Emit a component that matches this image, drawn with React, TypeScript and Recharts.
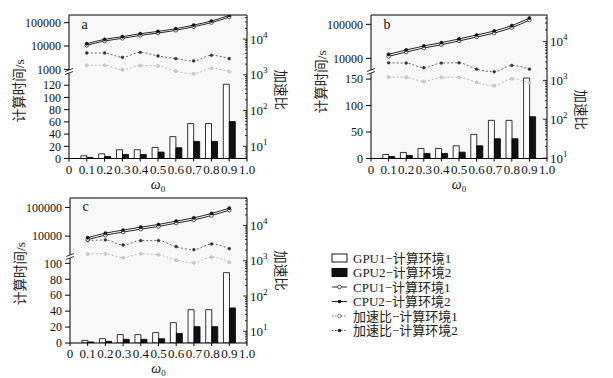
import React from 'react';
import { ComposedChart, Bar, Line, XAxis, YAxis, ReferenceLine, CartesianGrid } from 'recharts';

const OMEGA = [0.1, 0.2, 0.3, 0.4, 0.5, 0.6, 0.7, 0.8, 0.9];
const X_TICKS = [0, 0.1, 0.2, 0.3, 0.4, 0.5, 0.6, 0.7, 0.8, 0.9, 1.0];

// Panel a
const A_GPU1 = [4.5, 7.7, 14.3, 14.3, 18.2, 35.8, 57.2, 57.2, 121.6];
const A_GPU2 = [1.8, 3.3, 6.6, 6.6, 10.5, 17.6, 28, 28, 60.5];
const A_CPU1 = [10700, 16400, 21300, 28600, 36100, 47100, 67500, 100300, 175000];
const A_CPU2 = [12600, 19300, 25100, 33700, 42500, 55400, 79400, 118000, 206000];
const A_SP1 = [1850, 1850, 1380, 1820, 1780, 1260, 1070, 1530, 1240];
const A_SP2 = [4080, 4080, 3100, 4260, 3370, 2840, 2450, 3520, 2840];

// Panel b
const B_GPU1 = [7.6, 11.4, 19, 19, 24, 45.6, 72, 72, 152];
const B_GPU2 = [3.8, 5.7, 9.5, 9.5, 12, 24, 37.3, 37.3, 79];
const B_CPU1 = [11400, 15300, 20100, 25100, 32400, 42200, 55400, 79500, 133000];
const B_CPU2 = [13100, 17600, 23100, 28900, 37200, 48500, 63700, 91400, 153000];
const B_SP1 = [1220, 1200, 940, 1200, 1200, 890, 730, 1100, 870];
const B_SP2 = [2840, 2800, 2120, 2800, 2840, 1950, 1670, 2430, 1950];

// Panel c
const C_GPU1 = [3.3, 5.4, 10.5, 10.5, 13, 25.5, 41.8, 41.8, 88.3];
const C_GPU2 = [1.3, 2.1, 4.6, 4.6, 5.4, 12, 20.5, 20.5, 44];
const C_CPU1 = [7500, 10800, 13800, 17500, 21700, 28400, 37100, 52500, 80600];
const C_CPU2 = [8800, 12700, 16200, 20600, 25500, 33400, 43600, 61800, 94800];
const C_SP1 = [1550, 1580, 1220, 1580, 1480, 1040, 875, 1270, 910];
const C_SP2 = [3730, 3890, 2800, 3730, 3730, 2510, 2060, 2990, 2200];

const A_GPU_TICKS = [0, 20, 40, 60, 80, 100, 120];
const B_GPU_TICKS = [0, 50, 100, 150];
const C_GPU_TICKS = [0, 20, 40, 60, 80, 100];
const A_CPU_TICKS = [1000, 10000, 100000];
const B_CPU_TICKS = [10000, 100000];
const C_CPU_TICKS = [10000, 100000];

const LEGEND_LABELS = ['GPU1−计算环境1', 'GPU2−计算环境2', 'CPU1−计算环境1', 'CPU2−计算环境2', '加速比−计算环境1', '加速比−计算环境2'];

const Y_LABEL = '计算时间/s';
const R_LABEL = '加速比';

const SERIF = '"Liberation Serif", "Noto Sans CJK SC", serif';

const logTicks = (lo: number, hi: number) => {
  const out: number[] = [];
  for (let e = 0; e <= 5; e++) {
    for (let m = 1; m <= 9; m++) {
      const v = m * Math.pow(10, e);
      if (v >= lo && v <= hi) out.push(v);
    }
  }
  return out;
};

const PANELS = [
  {
    key: 'a', left: 69, top: 15, pw: 178, ph: 143.5,
    gpu1: A_GPU1, gpu2: A_GPU2, cpu1: A_CPU1, cpu2: A_CPU2, sp1: A_SP1, sp2: A_SP2,
    gpuDomain: [0, 235], gpuTicks: A_GPU_TICKS,
    cpuDomain: [Math.pow(10, -0.823), Math.pow(10, 5.33)], cpuTicks: A_CPU_TICKS,
    spDomain: [Math.pow(10, 0.658), Math.pow(10, 4.675)],
    breakY: 71, rDy: 3, lDy: 4,
  },
  {
    key: 'b', left: 371, top: 15, pw: 176, ph: 143.5,
    gpu1: B_GPU1, gpu2: B_GPU2, cpu1: B_CPU1, cpu2: B_CPU2, sp1: B_SP1, sp2: B_SP2,
    gpuDomain: [0, 271], gpuTicks: B_GPU_TICKS,
    cpuDomain: [Math.pow(10, 1.053), Math.pow(10, 5.274)], cpuTicks: B_CPU_TICKS,
    spDomain: [Math.pow(10, 0.99), Math.pow(10, 4.685)],
    breakY: 71, rDy: 23, lDy: -5,
  },
  {
    key: 'c', left: 70, top: 197.5, pw: 177, ph: 145,
    gpu1: C_GPU1, gpu2: C_GPU2, cpu1: C_CPU1, cpu2: C_CPU2, sp1: C_SP1, sp2: C_SP2,
    gpuDomain: [0, 182], gpuTicks: C_GPU_TICKS,
    cpuDomain: [Math.pow(10, 0.272), Math.pow(10, 5.33)], cpuTicks: C_CPU_TICKS,
    spDomain: [Math.pow(10, 0.668), Math.pow(10, 4.78)],
    breakY: 256, rDy: 0, lDy: 3,
  },
];

const LM = 60; // left axis width
const RM = 45; // right axis width
const TM = 10;
const XH = 35;

const RightTick = (props: any) => {
  const { x, y, payload } = props;
  const v = payload.value;
  const exp = Math.log10(v);
  const major = Math.abs(exp - Math.round(exp)) < 1e-6;
  return (
    <g>
      <line x1={x - (major ? 4 : 2)} x2={x} y1={y} y2={y} stroke="#000" strokeWidth={0.8} />
      {major && (
        <text x={x + 3} y={y + 4.5} fontSize={13} fontFamily={SERIF} fill="#111">
          10<tspan dy={-6} fontSize={9}>{Math.round(exp)}</tspan>
        </text>
      )}
    </g>
  );
};

const fmtX = (v: number) => (v === 0 ? '0' : v.toFixed(1));

function Panel({ p }: { p: any }) {
  const W = LM + p.pw + RM;
  const H = TM + p.ph + XH;
  const data = OMEGA.map((w, i) => ({
    w, gpu1: p.gpu1[i], gpu2: p.gpu2[i], cpu1: p.cpu1[i], cpu2: p.cpu2[i], sp1: p.sp1[i], sp2: p.sp2[i],
  }));
  const pos: React.CSSProperties = { position: 'absolute', left: p.left - LM, top: p.top - TM };
  const tickStyle = { fontSize: 12, fontFamily: SERIF, fill: '#111' };
  const spTicks = logTicks(p.spDomain[0], p.spDomain[1]);
  return (
    <>
      <div style={pos}>
        <ComposedChart width={W} height={H} data={data} margin={{ top: TM, left: 0, right: 0, bottom: 0 }} barGap={0}>
          <CartesianGrid yAxisId="gpu" horizontal={false} vertical={false} fill="#f8f8f8" />
          <XAxis
            dataKey="w" type="number" domain={[0, 1]} ticks={X_TICKS} interval={0} tickFormatter={fmtX}
            height={XH} tickSize={3} tickMargin={3} tick={{ ...tickStyle, fontSize: 13 }} stroke="#000" allowDataOverflow
            label={(lp: any) => {
              const vb = lp.viewBox;
              return (
                <text x={vb.x + vb.width / 2} y={vb.y + 30} textAnchor="middle" fontFamily={SERIF} fontSize={14} fill="#111">
                  <tspan fontStyle="italic">ω</tspan>
                  <tspan fontSize={9} dy={3}>0</tspan>
                </text>
              );
            }}
          />
          <YAxis
            yAxisId="gpu" orientation="left" width={LM} domain={p.gpuDomain} ticks={p.gpuTicks} interval={0}
            allowDataOverflow tickSize={5} tickMargin={3} tick={tickStyle} stroke="#000"
            label={(lp: any) => {
              const vb = lp.viewBox;
              const cx = vb.x + 10;
              const cy = vb.y + vb.height / 2 + p.lDy;
              return (
                <text x={cx} y={cy} transform={`rotate(-90, ${cx}, ${cy})`} textAnchor="middle" dominantBaseline="central"
                  fontFamily={SERIF} fontSize={13.5} fill="#222">{Y_LABEL}</text>
              );
            }}
          />
          <YAxis
            yAxisId="sp" orientation="right" width={RM} scale="log" domain={p.spDomain} ticks={spTicks} interval={0}
            allowDataOverflow tickSize={0} tickMargin={0} tickLine={false} tick={<RightTick />} stroke="#000"
            label={(lp: any) => {
              const vb = lp.viewBox;
              const cx = vb.x + 33;
              const cy = vb.y + vb.height / 2 + p.rDy;
              return (
                <text x={cx} y={cy} transform={`rotate(90, ${cx}, ${cy})`} textAnchor="middle" dominantBaseline="central"
                  fontFamily={SERIF} fontSize={13.5} fill="#222">{R_LABEL}</text>
              );
            }}
          />
          <ReferenceLine yAxisId="gpu" y={p.gpuDomain[1]} stroke="#000" strokeWidth={1} />
          <Bar yAxisId="gpu" dataKey="gpu1" fill="#fff" stroke="#000" strokeWidth={0.8} barSize={6} isAnimationActive={false} />
          <Bar yAxisId="gpu" dataKey="gpu2" fill="#111" stroke="#000" strokeWidth={0.8} barSize={6} isAnimationActive={false} />
          <Line yAxisId="sp" dataKey="sp1" type="monotone" stroke="#b0b0b0" strokeWidth={0.9} strokeDasharray="2 2"
            dot={{ r: 1.5, fill: '#d0d0d0', stroke: '#b0b0b0', strokeWidth: 0.6, strokeDasharray: '' }} isAnimationActive={false} />
          <Line yAxisId="sp" dataKey="sp2" type="monotone" stroke="#555" strokeWidth={0.9} strokeDasharray="2 2"
            dot={{ r: 1.4, fill: '#333', stroke: '#333', strokeWidth: 0.5, strokeDasharray: '' }} isAnimationActive={false} />
        </ComposedChart>
      </div>
      <div style={pos}>
        <ComposedChart width={W} height={H} data={data} margin={{ top: TM, left: 0, right: RM, bottom: XH }}>
          <XAxis dataKey="w" type="number" domain={[0, 1]} hide allowDataOverflow />
          <YAxis
            yAxisId="cpu" orientation="left" width={LM} scale="log" domain={p.cpuDomain} ticks={p.cpuTicks} interval={0}
            allowDataOverflow axisLine={false} tickSize={5} tickMargin={3} tick={tickStyle} stroke="#000"
          />
          <Line yAxisId="cpu" dataKey="cpu1" type="monotone" stroke="#111" strokeWidth={0.9}
            dot={{ r: 1.8, fill: '#fff', stroke: '#111', strokeWidth: 0.7 }} isAnimationActive={false} />
          <Line yAxisId="cpu" dataKey="cpu2" type="monotone" stroke="#111" strokeWidth={0.9}
            dot={{ r: 1.6, fill: '#111', stroke: '#111', strokeWidth: 0.5 }} isAnimationActive={false} />
        </ComposedChart>
      </div>
    </>
  );
}

function Overlay() {
  return (
    <svg width={613} height={378} style={{ position: 'absolute', left: 0, top: 0, pointerEvents: 'none' }}>
      {PANELS.map((p) => {
        const x = p.left;
        const y = p.breakY;
        return (
          <g key={p.key}>
            <polygon points={`${x - 4},${y + 0.5} ${x + 4},${y - 2.5} ${x + 4},${y + 0.5} ${x - 4},${y + 3.5}`} fill="#fff" />
            <line x1={x - 4} y1={y + 0.5} x2={x + 4} y2={y - 2.5} stroke="#000" strokeWidth={0.8} />
            <line x1={x - 4} y1={y + 3.5} x2={x + 4} y2={y + 0.5} stroke="#000" strokeWidth={0.8} />
            <text x={p.left + 12.5} y={p.top + 13.5} fontFamily={SERIF} fontSize={14} fill="#111">{p.key}</text>
          </g>
        );
      })}
    </svg>
  );
}

function LegendBox() {
  const x0 = 332;
  const y0 = 258;
  const dy = 14.5;
  return (
    <svg width={613} height={378} style={{ position: 'absolute', left: 0, top: 0, pointerEvents: 'none' }}>
      {LEGEND_LABELS.map((lab, i) => {
        const y = y0 + i * dy;
        let sym: React.ReactNode = null;
        if (i === 0) sym = <rect x={x0} y={y - 4} width={15} height={8} fill="#fff" stroke="#000" strokeWidth={0.9} />;
        else if (i === 1) sym = <rect x={x0} y={y - 4} width={15} height={8} fill="#111" stroke="#000" strokeWidth={0.9} />;
        else if (i === 2) sym = (<g><line x1={x0} x2={x0 + 15} y1={y} y2={y} stroke="#111" strokeWidth={0.9} /><circle cx={x0 + 7.5} cy={y} r={1.8} fill="#fff" stroke="#111" strokeWidth={0.7} /></g>);
        else if (i === 3) sym = (<g><line x1={x0} x2={x0 + 15} y1={y} y2={y} stroke="#111" strokeWidth={0.9} /><circle cx={x0 + 7.5} cy={y} r={1.8} fill="#111" /></g>);
        else if (i === 4) sym = (<g><line x1={x0} x2={x0 + 15} y1={y} y2={y} stroke="#666" strokeWidth={0.9} strokeDasharray="1.5 1.5" /><circle cx={x0 + 7.5} cy={y} r={1.8} fill="#fff" stroke="#444" strokeWidth={0.7} /></g>);
        else sym = (<g><line x1={x0} x2={x0 + 15} y1={y} y2={y} stroke="#444" strokeWidth={0.9} strokeDasharray="1.5 1.5" /><circle cx={x0 + 7.5} cy={y} r={1.8} fill="#222" /></g>);
        return (
          <g key={lab}>
            {sym}
            <text x={x0 + 21} y={y} dominantBaseline="central" fontFamily={SERIF} fontSize={13} fill="#222">{lab}</text>
          </g>
        );
      })}
    </svg>
  );
}

export default function App() {
  return (
    <div style={{ position: 'absolute', left: 0, top: 0, width: 613, height: 378, background: '#fff', overflow: 'hidden' }}>
      {PANELS.map((p) => (
        <Panel key={p.key} p={p} />
      ))}
      <Overlay />
      <LegendBox />
    </div>
  );
}
